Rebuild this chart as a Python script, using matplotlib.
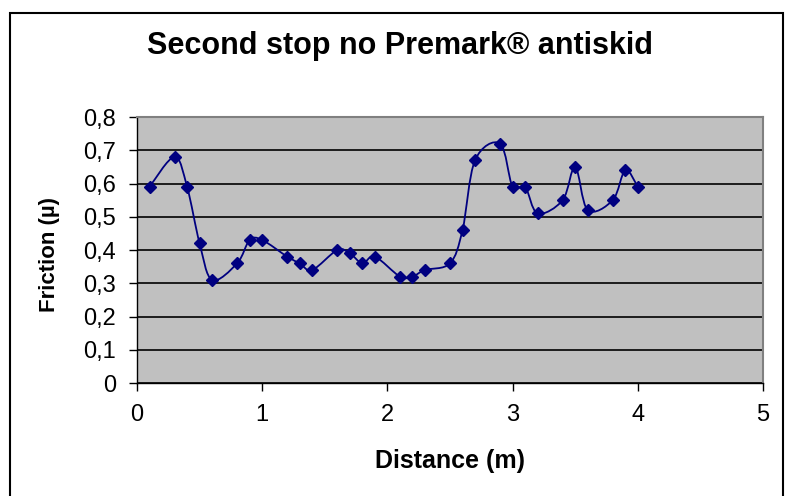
import matplotlib
matplotlib.use("Agg")
import matplotlib.pyplot as plt
from matplotlib.path import Path
from matplotlib.patches import PathPatch, Rectangle
from matplotlib.ticker import FuncFormatter

# data
distance = [0.1, 0.3, 0.4, 0.5, 0.6, 0.8, 0.9, 1.0, 1.2, 1.3, 1.4, 1.6, 1.7, 1.8, 1.9,
            2.1, 2.2, 2.3, 2.5, 2.6, 2.7, 2.9, 3.0, 3.1, 3.2, 3.4, 3.5, 3.6, 3.8, 3.9, 4.0]
friction = [0.59, 0.68, 0.59, 0.42, 0.31, 0.36, 0.43, 0.43, 0.38, 0.36, 0.34, 0.40, 0.39, 0.36, 0.38,
            0.32, 0.32, 0.34, 0.36, 0.46, 0.67, 0.72, 0.59, 0.59, 0.51, 0.55, 0.65, 0.52, 0.55, 0.64, 0.59]

plt.rcParams['font.family'] = ['Liberation Sans', 'DejaVu Sans']

fig = plt.figure(figsize=(7.9, 4.96), dpi=100)
# outer chart frame
fig.patches.append(Rectangle((10 / 790, -0.1), 773 / 790, 1.1 - 13 / 496, transform=fig.transFigure,
                             fill=False, edgecolor="black", linewidth=1.5))

ax = fig.add_axes([137 / 790, 1 - 383 / 496, 626 / 790, 266 / 496])
ax.set_facecolor("#c0c0c0")
ax.set_xlim(0, 5)
ax.set_ylim(0, 0.8)

# smoothed line like Excel (cubic bezier through the points)
pts = list(zip(distance, friction))
verts = [pts[0]]
codes = [Path.MOVETO]
n = len(pts)
for i in range(n - 1):
    p0 = pts[i - 1] if i > 0 else pts[i]
    p1 = pts[i]
    p2 = pts[i + 1]
    p3 = pts[i + 2] if i + 2 < n else pts[i + 1]
    c1 = (p1[0] + (p2[0] - p0[0]) / 6, p1[1] + (p2[1] - p0[1]) / 6)
    c2 = (p2[0] - (p3[0] - p1[0]) / 6, p2[1] - (p3[1] - p1[1]) / 6)
    verts += [c1, c2, p2]
    codes += [Path.CURVE4] * 3
ax.add_patch(PathPatch(Path(verts, codes), fill=False, edgecolor="#000080", linewidth=1.3, zorder=3))
ax.plot(distance, friction, linestyle="none", marker="D", markersize=6.5,
        color="#000080", zorder=4, clip_on=False)

ax.set_yticks([i / 10 for i in range(9)])
ax.set_xticks(range(6))
ax.yaxis.set_major_formatter(FuncFormatter(lambda v, p: "0" if v == 0 else f"{v:.1f}".replace(".", ",")))
ax.grid(axis="y", color="black", linewidth=1.2)
ax.set_axisbelow(True)
ax.tick_params(labelsize=17, direction="out", length=6, width=1, pad=9)
ax.tick_params(axis="x", pad=9)

for s in ["top", "right"]:
    ax.spines[s].set_color("#808080")
    ax.spines[s].set_linewidth(1.5)
for s in ["left", "bottom"]:
    ax.spines[s].set_color("black")
    ax.spines[s].set_linewidth(1)

fig.text(450 / 790, 1 - 461 / 496, "Distance (m)", ha="center", va="center",
         fontsize=18, fontweight="bold")
fig.text(49 / 790, 1 - 254 / 496, "Friction (µ)", ha="center", va="center", rotation=90,
         fontsize=16, fontweight="bold")
fig.text(400 / 790, 1 - 46 / 496, "Second stop no Premark® antiskid", ha="center", va="center",
         fontsize=22, fontweight="bold")

fig.savefig("out.png", dpi=100)
